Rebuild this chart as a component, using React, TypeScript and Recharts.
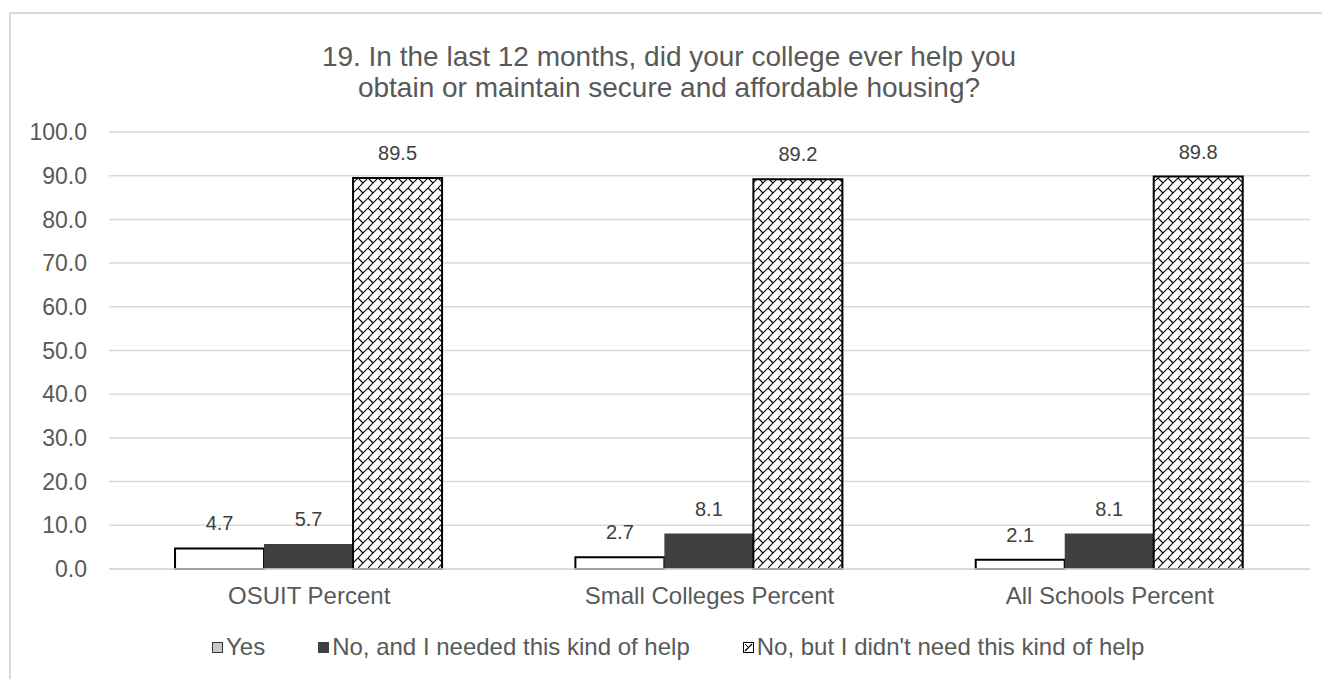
import React from "react";
import { BarChart, Bar, XAxis, YAxis, CartesianGrid, LabelList } from "recharts";

const categories = ["OSUIT Percent", "Small Colleges Percent", "All Schools Percent"];
const yesValues = [4.7, 2.7, 2.1];
const neededValues = [5.7, 8.1, 8.1];
const notNeededValues = [89.5, 89.2, 89.8];
const yTicks = [0, 10, 20, 30, 40, 50, 60, 70, 80, 90, 100];
const seriesNames = ["Yes", "No, and I needed this kind of help", "No, but I didn't need this kind of help"];
const titleLines = [
  "19. In the last 12 months, did your college ever help you",
  "obtain or maintain secure and affordable housing?",
];

const data = categories.map((c, i) => ({
  name: c,
  yes: yesValues[i],
  needed: neededValues[i],
  notNeeded: notNeededValues[i],
}));

const FONT = "Arial, 'Liberation Sans', sans-serif";
const W = 1322;
const H = 671;

const LegendMarker = ({ kind }: { kind: number }) => {
  if (kind === 0)
    return (
      <svg width={11} height={11} style={{ display: "block" }}>
        <rect x={0.5} y={0.5} width={10} height={10} fill="#c8c8c8" stroke="#333" strokeWidth={1} />
      </svg>
    );
  if (kind === 1)
    return (
      <svg width={11} height={11} style={{ display: "block" }}>
        <rect x={0} y={0} width={11} height={11} fill="#404040" />
      </svg>
    );
  return (
    <svg width={11} height={11} style={{ display: "block" }}>
      <rect x={0.5} y={0.5} width={10} height={10} fill="#fff" stroke="#000" strokeWidth={1} />
      <line x1={2} y1={9} x2={9} y2={2} stroke="#000" strokeWidth={1.2} />
      <line x1={2} y1={2} x2={5.5} y2={5.5} stroke="#000" strokeWidth={1} />
    </svg>
  );
};

const labelFmt = (v: number) => v.toFixed(1);

export default function App() {
  return (
    <div style={{ position: "relative", width: W, height: H, background: "#fff" }}>
      <div
        style={{
          position: "absolute",
          left: 1,
          top: 4,
          width: W - 1,
          height: H - 4,
          borderLeft: "2px solid #d9d9d9",
          borderTop: "2px solid #d9d9d9",
          boxSizing: "border-box",
        }}
      />
      <div
        style={{
          position: "absolute",
          left: 0,
          top: 33,
          width: W,
          textAlign: "center",
          fontFamily: FONT,
          fontSize: 28,
          lineHeight: "31px",
          color: "#595959",
        }}
      >
        {titleLines.map((l) => (
          <div key={l}>{l}</div>
        ))}
      </div>
      <div style={{ position: "absolute", left: 0, top: 0 }}>
        <BarChart
          width={W}
          height={H}
          data={data}
          margin={{ top: 124, right: 20, bottom: 80, left: 0 }}
          barCategoryGap="16.5%"
          barGap={0}
        >
          <defs>
            <pattern id="brick" patternUnits="userSpaceOnUse" width={10} height={10}>
              <rect width={10} height={10} fill="#fff" />
              <path d="M0,10 L10,0" stroke="#000" strokeWidth={1.1} />
              <path d="M0,0 L5,5" stroke="#000" strokeWidth={1.1} />
            </pattern>
          </defs>
          <CartesianGrid vertical={false} stroke="#d9d9d9" strokeWidth={1.5} />
          <XAxis
            dataKey="name"
            height={30}
            axisLine={{ stroke: "#d9d9d9", strokeWidth: 1.5 }}
            tickLine={false}
            tickSize={0}
            tickMargin={18}
            tick={{ fill: "#595959", fontSize: 24, fontFamily: FONT }}
          />
          <YAxis
            domain={[0, 100]}
            ticks={yTicks}
            interval={0}
            width={101}
            axisLine={false}
            tickLine={false}
            tickSize={0}
            tickMargin={22}
            tickFormatter={labelFmt}
            tick={{ fill: "#595959", fontSize: 23, fontFamily: FONT }}
          />
          <Bar dataKey="yes" name={seriesNames[0]} fill="#ffffff" stroke="#000" strokeWidth={2} isAnimationActive={false}>
            <LabelList dataKey="yes" position="top" offset={18} fill="#404040" fontSize={20} fontFamily={FONT} formatter={labelFmt} />
          </Bar>
          <Bar dataKey="needed" name={seriesNames[1]} fill="#404040" isAnimationActive={false}>
            <LabelList dataKey="needed" position="top" offset={18} fill="#404040" fontSize={20} fontFamily={FONT} formatter={labelFmt} />
          </Bar>
          <Bar dataKey="notNeeded" name={seriesNames[2]} fill="url(#brick)" stroke="#000" strokeWidth={2} isAnimationActive={false}>
            <LabelList dataKey="notNeeded" position="top" offset={18} fill="#404040" fontSize={20} fontFamily={FONT} formatter={labelFmt} />
          </Bar>
        </BarChart>
      </div>
      <div
        style={{
          position: "absolute",
          left: 204,
          top: 626,
          display: "flex",
          alignItems: "center",
          fontFamily: FONT,
          fontSize: 24,
          lineHeight: "26px",
          color: "#595959",
          whiteSpace: "nowrap",
        }}
      >
        {seriesNames.map((n, i) => (
          <div key={n} style={{ display: "flex", alignItems: "center", marginRight: i < 2 ? 53 : 0 }}>
            <LegendMarker kind={i} />
            <span style={{ marginLeft: 3 }}>{n}</span>
          </div>
        ))}
      </div>
    </div>
  );
}
